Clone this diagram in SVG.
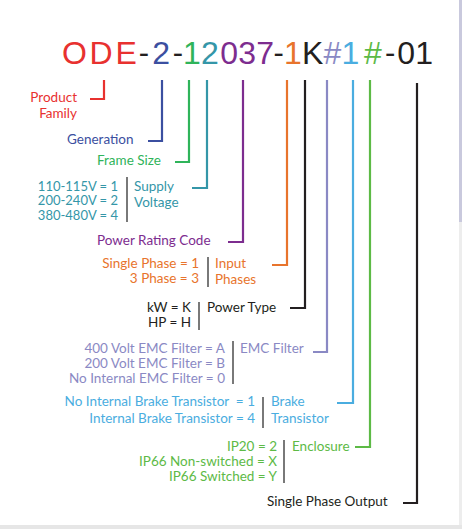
<svg xmlns="http://www.w3.org/2000/svg" width="462" height="529" viewBox="0 0 462 529">
<style>
.t{font-family:"Liberation Sans",Arial,sans-serif;font-size:32px}
.h{font-family:Roboto,"Liberation Sans",sans-serif}
.l{font-family:Lato,"Liberation Sans",sans-serif;font-size:13.5px}
.s{font-size:13px}
.e{text-anchor:end}
.c{fill:none;stroke-width:2.2;stroke-linecap:butt;stroke-linejoin:miter}
.sep{stroke:#4d4d4d;stroke-width:1.5}
.red{fill:#e8312f}.blue{fill:#3b4fa0}.grn{fill:#2fb45a}.teal{fill:#3496a8}.pur{fill:#7d2d8f}.org{fill:#e8742c}.blk{fill:#231f20}.lav{fill:#8a89c4}.lb{fill:#4aade0}.g2{fill:#5dba46}
</style>
<rect width="462" height="529" fill="#ffffff"/>
<rect x="459" y="0" width="3" height="222" fill="#c9c9dd"/>
<rect x="459" y="222" width="3" height="307" fill="#ededed"/>
<rect x="0" y="525" width="462" height="4" fill="#e6e6e6"/>

<g id="title">
<text class="t" y="64"><tspan class="red" x="62">O</tspan><tspan class="red" x="89.5">D</tspan><tspan class="red" x="115.4">E</tspan><tspan class="blk h" x="139.4">-</tspan><tspan class="blue" x="152.3">2</tspan><tspan class="blk h" x="173.4">-</tspan><tspan class="grn" x="183.1">1</tspan><tspan class="teal" x="201">2</tspan><tspan class="pur" x="220.3">0</tspan><tspan class="pur" x="238.3">3</tspan><tspan class="pur" x="256.3">7</tspan><tspan class="blk h" x="274.3">-</tspan><tspan class="org" x="284">1</tspan><tspan class="blk" x="302">K</tspan><tspan class="lav" x="323.5">#</tspan><tspan class="lb" x="341.6">1</tspan><tspan class="g2" x="364">#</tspan><tspan class="blk h" x="385.8">-</tspan><tspan class="blk" x="397.2">0</tspan><tspan class="blk" x="415.2">1</tspan></text>
</g>

<g id="connectors">
<path class="c" stroke="#e8312f" d="M104,80 V99 H90"/>
<path class="c" stroke="#3b4fa0" d="M162,80 V141 H148"/>
<path class="c" stroke="#2fb45a" d="M189,80 V162 H175"/>
<path class="c" stroke="#3496a8" d="M207,80 V188 H192"/>
<path class="c" stroke="#7d2d8f" d="M243,80 V242 H228"/>
<path class="c" stroke="#e8742c" d="M287,80 V265 H272"/>
<path class="c" stroke="#231f20" d="M305,80 V308 H290"/>
<path class="c" stroke="#8a89c4" d="M327,80 V352 H313"/>
<path class="c" stroke="#4aade0" d="M353,80 V403 H337"/>
<path class="c" stroke="#5dba46" d="M370,80 V447 H355"/>
<path class="c" stroke="#231f20" d="M417,83 V503 H403"/>
</g>

<g id="product-family">
<text class="l red e" x="77" y="102">Product</text>
<text class="l red e" x="77" y="118">Family</text>
</g>

<g id="generation">
<text class="l blue" x="67" y="144">Generation</text>
</g>

<g id="frame-size">
<text class="l grn" x="97" y="165">Frame Size</text>
</g>

<g id="supply-voltage">
<text class="l s teal e" x="118" y="190.5">110-115V = 1</text>
<text class="l s teal e" x="118" y="205">200-240V = 2</text>
<text class="l s teal e" x="118" y="219.5">380-480V = 4</text>
<line class="sep" x1="127" y1="177" x2="127" y2="222"/>
<text class="l teal" x="134" y="191">Supply</text>
<text class="l teal" x="134" y="207">Voltage</text>
</g>

<g id="power-rating">
<text class="l pur" x="97" y="245">Power Rating Code</text>
</g>

<g id="input-phases">
<text class="l org e" x="199" y="268">Single Phase = 1</text>
<text class="l org e" x="199" y="283">3 Phase = 3</text>
<line class="sep" x1="208" y1="257" x2="208" y2="287"/>
<text class="l org" x="215" y="268">Input</text>
<text class="l org" x="215" y="284">Phases</text>
</g>

<g id="power-type">
<text class="l blk e" x="191" y="312">kW = K</text>
<text class="l blk e" x="191" y="327">HP = H</text>
<line class="sep" x1="199" y1="302" x2="199" y2="330"/>
<text class="l blk" x="207" y="312">Power Type</text>
</g>

<g id="emc-filter">
<text class="l lav e" x="225" y="353">400 Volt EMC Filter = A</text>
<text class="l lav e" x="225" y="368">200 Volt EMC Filter = B</text>
<text class="l lav e" x="225" y="383">No Internal EMC Filter = 0</text>
<line class="sep" x1="233" y1="341" x2="233" y2="384"/>
<text class="l lav" x="240" y="353">EMC Filter</text>
</g>

<g id="brake-transistor">
<text class="l lb e" x="255" y="406" xml:space="preserve">No Internal Brake Transistor  = 1</text>
<text class="l lb e" x="255" y="423">Internal Brake Transistor = 4</text>
<line class="sep" x1="263" y1="397" x2="263" y2="428"/>
<text class="l lb" x="271" y="406">Brake</text>
<text class="l lb" x="271" y="423">Transistor</text>
</g>

<g id="enclosure">
<text class="l g2 e" x="277" y="451">IP20 = 2</text>
<text class="l g2 e" x="277" y="466">IP66 Non-switched = X</text>
<text class="l g2 e" x="277" y="481">IP66 Switched = Y</text>
<line class="sep" x1="284" y1="440" x2="284" y2="483"/>
<text class="l g2" x="292" y="451">Enclosure</text>
</g>

<g id="single-phase-output">
<text class="l blk" x="267" y="506">Single Phase Output</text>
</g>
</svg>
